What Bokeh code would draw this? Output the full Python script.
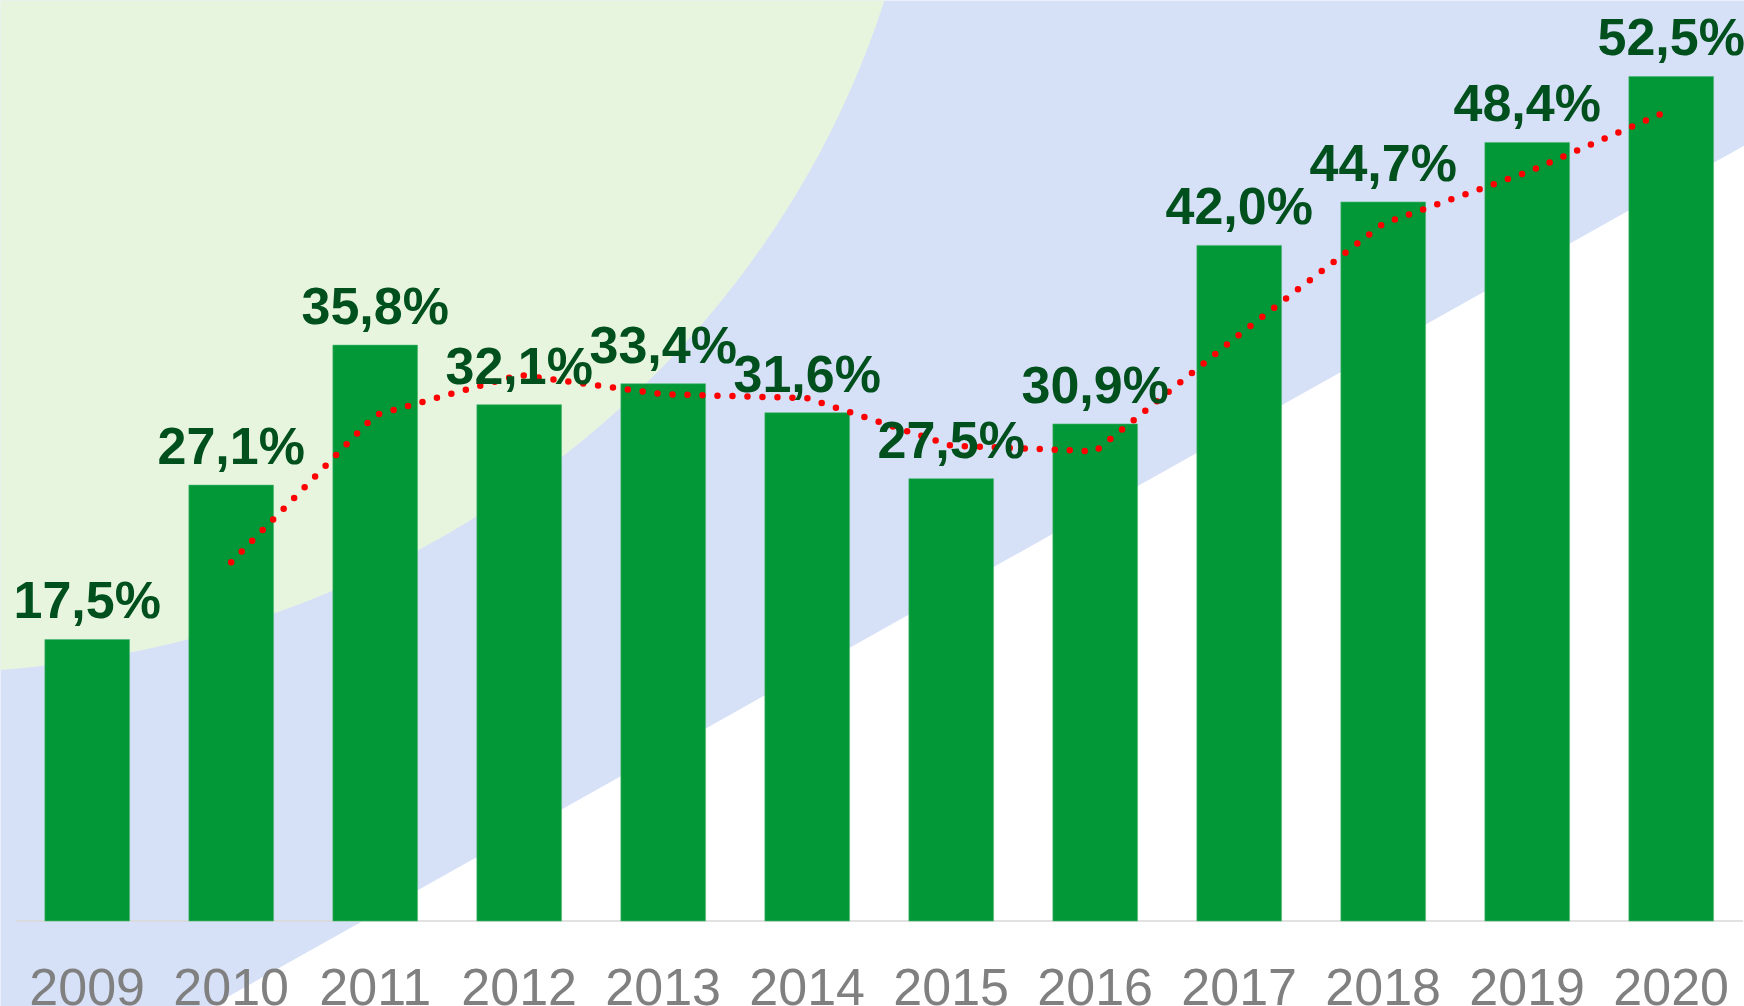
from bokeh.plotting import figure
from bokeh.models import Range1d, ColumnDataSource
from bokeh.core.properties import value
from bokeh.embed import file_html
from bokeh.resources import INLINE
import numpy as np

# ---------------- data ----------------
years = ["2009", "2010", "2011", "2012", "2013", "2014",
         "2015", "2016", "2017", "2018", "2019", "2020"]
shares = [17.5, 27.1, 35.8, 32.1, 33.4, 31.6, 27.5, 30.9, 42.0, 44.7, 48.4, 52.5]
share_labels = ["17,5%", "27,1%", "35,8%", "32,1%", "33,4%", "31,6%",
                "27,5%", "30,9%", "42,0%", "44,7%", "48,4%", "52,5%"]
MA_PERIOD = 2  # trendline: 2-period moving average

# ---------------- style ----------------
W, H = 1744, 1006
X0_PX, STEP_PX = 86.7, 144.0            # first category centre / spacing (px)
BASE_PX, PPU = 920.5, 16.086            # baseline and px per percent
BLUE = "#D6E0F7"
GREEN_BG = "#E8F5DE"
BAR = "#029837"
LABEL = "#00501E"
TICK = "#808080"
GAP_WIDTH = 0.70
LABEL_GAP_PX = 39.0
TICK_BASELINE_PX = 66.0


def dx(px):
    return (px - X0_PX) / STEP_PX


def dy(py):
    return (BASE_PX - py) / PPU


p = figure(width=W, height=H, output_backend="svg", toolbar_location=None,
           x_range=Range1d(dx(0), dx(W)), y_range=Range1d(dy(H), dy(0)),
           x_axis_location=None, y_axis_location=None, min_border=0,
           background_fill_color=BLUE, border_fill_color=BLUE,
           outline_line_color=None)
p.grid.visible = False

# background decoration: light green ellipse (top-left) and white wedge (bottom-right)
ell_cx, ell_cy, ell_a, ell_b = -75.0, -275.0, 1002.0, 947.0
p.ellipse(x=[dx(ell_cx)], y=[dy(ell_cy)], width=[2 * ell_a / STEP_PX],
          height=[2 * ell_b / PPU], fill_color=GREEN_BG, line_color=None)
wedge_px = [(150, 1039.7), (1800, 113.6), (1800, 1100), (150, 1100)]
p.patch(x=[dx(a) for a, b in wedge_px], y=[dy(b) for a, b in wedge_px],
        fill_color="white", line_color=None)

n = len(years)
idx = list(range(n))
bar_w = 1.0 / (1.0 + GAP_WIDTH)

# axis line
p.segment(x0=[-0.5], y0=[0], x1=[n - 0.5], y1=[0], line_color="#D9D9D9", line_width=1.5)

src = ColumnDataSource(dict(x=idx, top=shares, lab=share_labels, year=years,
                            ly=[v + LABEL_GAP_PX / PPU for v in shares],
                            ty=[-TICK_BASELINE_PX / PPU] * n))
p.vbar(x="x", top="top", width=bar_w, bottom=0, source=src,
       fill_color=BAR, line_color="#4DB877", line_width=1, line_alpha=0.6)

# moving-average trendline (dotted)
v = np.array(shares)
ma = np.convolve(v, np.ones(MA_PERIOD) / MA_PERIOD, mode="valid")
mx = np.arange(MA_PERIOD - 1, n, dtype=float)
p.line(x=mx, y=ma, line_color="#FF0000", line_width=6.5, line_dash="0 15",
       line_cap="round", line_join="round")

# value labels
p.text(x="x", y="ly", text="lab", source=src, text_align="center",
       text_baseline="alphabetic", text_font=value("Liberation Sans"),
       text_font_style="bold", text_font_size="52px", text_color=LABEL)
# category labels
p.text(x="x", y="ty", text="year", source=src, text_align="center",
       text_baseline="alphabetic", text_font=value("Liberation Sans"),
       text_font_size="52px", text_color=TICK)

open("out.html", "w").write(file_html(p, INLINE))
